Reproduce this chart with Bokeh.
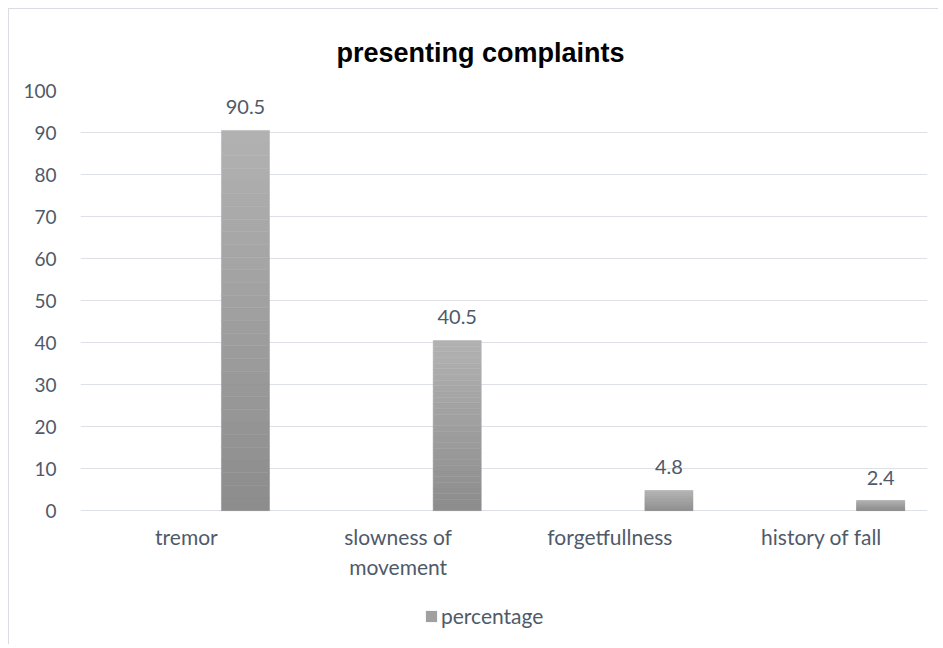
from bokeh.plotting import figure
from bokeh.models import ColumnDataSource, FactorRange, Range1d, FixedTicker, Legend, LegendItem
from bokeh.core.properties import value
from bokeh.transform import dodge
from bokeh.embed import file_html
from bokeh.resources import INLINE

categories = ["tremor", "slowness of\nmovement", "forgetfullness", "history of fall"]
percentage = [90.5, 40.5, 4.8, 2.4]
value_labels = ["90.5", "40.5", "4.8", "2.4"]
y_ticks = [0, 10, 20, 30, 40, 50, 60, 70, 80, 90, 100]

TEXT = "#4f5a69"
GRID = "#dde1e6"
TOP_C = (0xB2, 0xB2, 0xB2)
BOT_C = (0x8C, 0x8C, 0x8C)

# frame: value 100 at top of frame, frame extends below 0 to hold labels and legend
p = figure(x_range=FactorRange(*categories), y_range=Range1d(-32.1, 100),
           width=930, height=636, output_backend="svg", toolbar_location=None,
           min_border_left=71, min_border_right=12, min_border_top=81, min_border_bottom=0,
           title="presenting complaints")
p.margin = (8, 0, 0, 8)
p.styles = {"border-left": "1px solid #d9dde3", "border-top": "1px solid #d9dde3"}
p.outline_line_color = None
p.title.align = "left"
p.title.offset = 256
p.title.text_font = "Liberation Sans"
p.title.text_font_size = "27px"
p.title.text_font_style = "bold"
p.title.text_color = "#000000"
p.title.standoff = 45

# gradient bars built as bands of each bar
N = 30
bc, bb, bt, bcol = [], [], [], []
for c, v in zip(categories, percentage):
    for k in range(N):
        f = (k + 0.5) / N
        r = [int(round(BOT_C[i] + (TOP_C[i] - BOT_C[i]) * f)) for i in range(3)]
        bc.append(c)
        bb.append(v * k / N)
        bt.append(v * (k + 1) / N)
        bcol.append("#%02x%02x%02x" % tuple(r))
bands = ColumnDataSource(dict(cat=bc, bottom=bb, top=bt, color=bcol))
p.vbar(x=dodge("cat", 0.279, range=p.x_range), bottom="bottom", top="top", width=0.227,
       fill_color="color", line_color="color", line_width=0.5, source=bands)

src = ColumnDataSource(dict(cat=categories, val=percentage, lab=value_labels,
                            base=[0] * len(categories)))
p.text(x=dodge("cat", 0.279, range=p.x_range), y="val", text="lab", source=src,
       text_align="center", text_baseline="middle", y_offset=-23,
       text_font=value("Lato"), text_font_size="20px", text_color=TEXT)

# category labels under the baseline
p.text(x="cat", y="base", text="cat", source=src,
       text_align="center", text_baseline="top", y_offset=13, text_line_height=1.2,
       text_font=value("Lato"), text_font_size="21px", text_color=TEXT)

dummy = p.vbar(x=[categories[0]], top=[0], width=0.2, fill_color="#a0a0a0", line_color=None)
legend = Legend(items=[LegendItem(label="percentage", renderers=[dummy])],
                orientation="horizontal", location=(344, 17),
                label_text_font="Lato", label_text_font_size="21px", label_text_color=TEXT,
                glyph_width=14, glyph_height=14, label_standoff=3,
                border_line_color=None, background_fill_alpha=0, margin=0, padding=4)
p.add_layout(legend, "center")

p.xaxis.visible = False
p.xgrid.grid_line_color = None
p.ygrid.ticker = FixedTicker(ticks=y_ticks)
p.ygrid.grid_line_color = GRID
p.ygrid.grid_line_width = 1
p.yaxis.ticker = FixedTicker(ticks=y_ticks)
p.yaxis.axis_line_color = None
p.yaxis.major_tick_line_color = None
p.yaxis.minor_tick_line_color = None
p.yaxis.major_label_text_font = "Lato"
p.yaxis.major_label_text_font_size = "19px"
p.yaxis.major_label_text_color = TEXT
p.yaxis.major_label_standoff = 18

open("out.html", "w").write(file_html(p, INLINE))
